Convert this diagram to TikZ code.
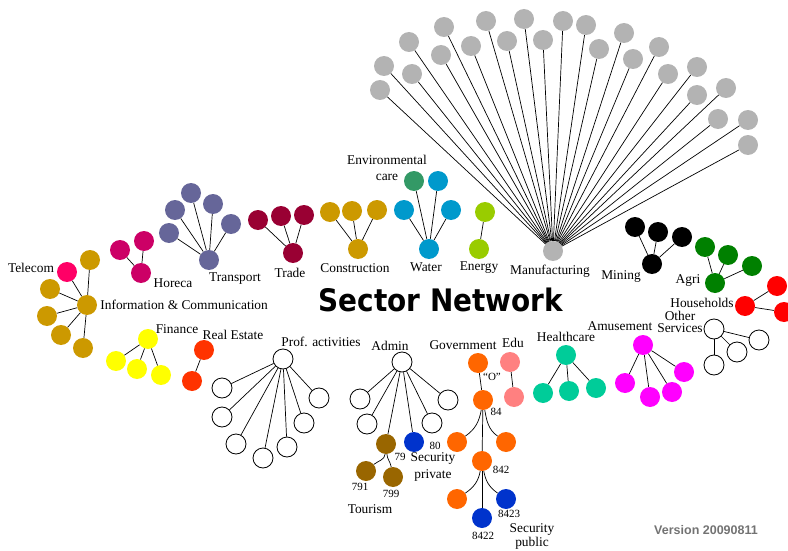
\documentclass[tikz,border=0pt]{standalone}
\usepackage{graphicx}
\usepackage{fontspec}
\setmainfont{Liberation Serif}
\newfontfamily\headfont{DejaVu Sans}
\newfontfamily\versionfont{Liberation Sans}
\usetikzlibrary{positioning}

\definecolor{manu}{HTML}{B3B3B3}
\definecolor{ict}{HTML}{CC9900}
\definecolor{telecom}{HTML}{FF0066}
\definecolor{horeca}{HTML}{CC0066}
\definecolor{transport}{HTML}{666699}
\definecolor{trade}{HTML}{990033}
\definecolor{water}{HTML}{0099CC}
\definecolor{envcare}{HTML}{339966}
\definecolor{energy}{HTML}{99CC00}
\definecolor{agri}{HTML}{008000}
\definecolor{househ}{HTML}{FF0000}
\definecolor{amuse}{HTML}{FF00FF}
\definecolor{health}{HTML}{00CC99}
\definecolor{edu}{HTML}{FF8080}
\definecolor{gov}{HTML}{FF6600}
\definecolor{secur}{HTML}{0033CC}
\definecolor{tourism}{HTML}{996600}
\definecolor{finance}{HTML}{FFFF00}
\definecolor{realest}{HTML}{FF3300}

\begin{document}
\begin{tikzpicture}[x=1pt, y=-1pt,
    sector/.style={circle, inner sep=0pt, minimum size=20pt},
    blank/.style={sector, draw, fill=white, line width=0.8pt},
    link/.style={black, line width=0.7pt},
    lbl/.style={inner sep=0pt, align=center, font=\fontsize{13.4}{15}\selectfont},
    num/.style={inner sep=0pt, font=\fontsize{11}{11}\selectfont}
]
\useasboundingbox (0,0) rectangle (788,551);

% manufacturing fan
\node[sector, fill=manu] (manu) at (553,251) {};
\foreach \x/\y [count=\i] in {380/90, 384/66, 409/42, 412/74, 444/27, 441/55,
    471/46, 486/21, 507/41, 524/19, 543/40, 563/21, 586/25, 599/49, 624/33,
    633/59, 659/47, 668/74, 697/67, 697/95, 726/88, 718/119, 748/120, 748/145}
{
    \node[sector, fill=manu] (manu\i) at (\x,\y) {};
    \draw[link] (manu) -- (manu\i);
}
\node[lbl] at (550,271) {Manufacturing};

% information & communication
\node[sector, fill=ict] (ict) at (87,305) {};
\node[sector, fill=telecom] (tel) at (67,272) {};
\node[sector, fill=ict] (ict1) at (90,260) {};
\node[sector, fill=ict] (ict2) at (50,289) {};
\node[sector, fill=ict] (ict3) at (47,316) {};
\node[sector, fill=ict] (ict4) at (61,335) {};
\node[sector, fill=ict] (ict5) at (83,348) {};
\draw[link] (ict) -- (tel);
\foreach \i in {1,...,5} \draw[link] (ict) -- (ict\i);
\node[lbl] at (31,268) {Telecom};
\node[lbl, right=3pt of ict] {Information \& Communication};

% horeca
\node[sector, fill=horeca] (hor) at (141,273) {};
\node[sector, fill=horeca] (hor1) at (120,250) {};
\node[sector, fill=horeca] (hor2) at (144,241) {};
\draw[link] (hor) -- (hor1) (hor) -- (hor2);
\node[lbl] at (173,283) {Horeca};

% transport
\node[sector, fill=transport] (tra) at (209,260) {};
\node[sector, fill=transport] (tra1) at (169,233) {};
\node[sector, fill=transport] (tra2) at (175,210) {};
\node[sector, fill=transport] (tra3) at (191,193) {};
\node[sector, fill=transport] (tra4) at (213,204) {};
\node[sector, fill=transport] (tra5) at (231,224) {};
\foreach \i in {1,...,5} \draw[link] (tra) -- (tra\i);
\node[lbl] at (235,279) {Transport};

% trade
\node[sector, fill=trade] (trd) at (293,253) {};
\node[sector, fill=trade] (trd1) at (258,220) {};
\node[sector, fill=trade] (trd2) at (281,216) {};
\node[sector, fill=trade] (trd3) at (304,215) {};
\foreach \i in {1,2,3} \draw[link] (trd) -- (trd\i);
\node[lbl] at (290,273) {Trade};

% construction
\node[sector, fill=ict] (con) at (358,249) {};
\node[sector, fill=ict] (con1) at (330,212) {};
\node[sector, fill=ict] (con2) at (352,211) {};
\node[sector, fill=ict] (con3) at (377,210) {};
\foreach \i in {1,2,3} \draw[link] (con) -- (con\i);
\node[lbl] at (355,268) {Construction};

% water and environmental care
\node[sector, fill=water] (wat) at (429,249) {};
\node[sector, fill=water] (wat1) at (404,210) {};
\node[sector, fill=envcare] (env) at (414,181) {};
\node[sector, fill=water] (wat2) at (438,181) {};
\node[sector, fill=water] (wat3) at (451,210) {};
\draw[link] (wat) -- (wat1) (wat) -- (env) (wat) -- (wat2) (wat) -- (wat3);
\node[lbl] at (426,267) {Water};
\node[lbl, font=\fontsize{13.4}{16}\selectfont] at (387,168) {Environmental\\care};

% energy
\node[sector, fill=energy] (ene) at (479,249) {};
\node[sector, fill=energy] (ene1) at (485,212) {};
\draw[link] (ene) -- (ene1);
\node[lbl] at (479,268) {Energy};

% mining
\node[sector, fill=black] (min) at (652,264) {};
\node[sector, fill=black] (min1) at (635,227) {};
\node[sector, fill=black] (min2) at (658,232) {};
\node[sector, fill=black] (min3) at (682,237) {};
\foreach \i in {1,2,3} \draw[link] (min) -- (min\i);
\node[lbl] at (621,277) {Mining};

% agri
\node[sector, fill=agri] (agr) at (715,283) {};
\node[sector, fill=agri] (agr1) at (705,247) {};
\node[sector, fill=agri] (agr2) at (728,255) {};
\node[sector, fill=agri] (agr3) at (752,266) {};
\foreach \i in {1,2,3} \draw[link] (agr) -- (agr\i);
\node[lbl] at (688,281) {Agri};

% households
\node[sector, fill=househ] (hou) at (745,306) {};
\node[sector, fill=househ] (hou1) at (777,286) {};
\node[sector, fill=househ] (hou2) at (784,312) {};
\draw[link] (hou) -- (hou1) (hou) -- (hou2);
\node[lbl] at (702,303) {Households};

% other services
\node[blank] (oth) at (714,329) {};
\node[blank] (oth1) at (759,340) {};
\node[blank] (oth2) at (737,352) {};
\node[blank] (oth3) at (714,365) {};
\foreach \i in {1,2,3} \draw[link] (oth) -- (oth\i);
\node[lbl, font=\fontsize{13.4}{12}\selectfont] at (680,322) {Other\\Services};

% amusement
\node[sector, fill=amuse] (amu) at (643,345) {};
\node[sector, fill=amuse] (amu1) at (625,383) {};
\node[sector, fill=amuse] (amu2) at (650,397) {};
\node[sector, fill=amuse] (amu3) at (672,392) {};
\node[sector, fill=amuse] (amu4) at (684,372) {};
\foreach \i in {1,...,4} \draw[link] (amu) -- (amu\i);
\node[lbl] at (620,326) {Amusement};

% healthcare
\node[sector, fill=health] (hea) at (566,355) {};
\node[sector, fill=health] (hea1) at (543,393) {};
\node[sector, fill=health] (hea2) at (569,391) {};
\node[sector, fill=health] (hea3) at (596,388) {};
\foreach \i in {1,2,3} \draw[link] (hea) -- (hea\i);
\node[lbl] at (566,337) {Healthcare};

% edu
\node[sector, fill=edu] (edu) at (510,362) {};
\node[sector, fill=edu] (edu1) at (514,397) {};
\draw[link] (edu) -- (edu1);
\node[lbl] at (513,343) {Edu};

% government, 84 and 842
\node[sector, fill=gov] (gov) at (478,363) {};
\node[sector, fill=gov] (g84) at (483,400) {};
\node[sector, fill=gov] (g84a) at (457,442) {};
\node[sector, fill=gov] (g84b) at (506,442) {};
\node[sector, fill=gov] (g842) at (482,461) {};
\node[sector, fill=gov] (g842a) at (457,499) {};
\node[sector, fill=secur] (g8422) at (482,518) {};
\node[sector, fill=secur] (g8423) at (506,499) {};
\draw[link] (gov) -- (g84);
\draw[link] (g84) to[out=-100, in=35] (g84a);
\draw[link] (g84) to[out=-80, in=145] (g84b);
\draw[link] (g84) -- (g842);
\draw[link] (g842) to[out=-100, in=35] (g842a);
\draw[link] (g842) -- (g8422);
\draw[link] (g842) to[out=-80, in=145] (g8423);
\node[lbl] at (463,345) {Government};
\node[num] at (492,377) {``O''};
\node[num] at (496,412) {84};
\node[num] at (501,470) {842};
\node[num] at (483,536) {8422};
\node[num] at (509,514) {8423};
\node[lbl, font=\fontsize{13.4}{14}\selectfont] at (532,536) {Security\\public};

% admin, tourism and private security
\node[blank] (adm) at (402,362) {};
\node[blank] (adm1) at (360,399) {};
\node[blank] (adm2) at (367,424) {};
\node[sector, fill=tourism] (t79) at (386,444) {};
\node[sector, fill=secur] (s80) at (414,442) {};
\node[blank] (adm3) at (432,423) {};
\node[blank] (adm4) at (448,400) {};
\node[sector, fill=tourism] (t791) at (366,471) {};
\node[sector, fill=tourism] (t799) at (393,477) {};
\foreach \i in {1,...,4} \draw[link] (adm) -- (adm\i);
\draw[link] (adm) -- (t79) (adm) -- (s80);
\draw[link] (t79) to[out=-95, in=40] (t791);
\draw[link] (t79) to[out=-85, in=100] (t799);
\node[lbl] at (390,346) {Admin};
\node[num] at (400,457) {79};
\node[num] at (435,446) {80};
\node[num] at (360,487) {791};
\node[num] at (391,494) {799};
\node[lbl, font=\fontsize{13.4}{17}\selectfont] at (433,467) {Security\\private};
\node[lbl] at (370,509) {Tourism};

% professional activities
\node[blank] (pro) at (283,359) {};
\node[blank] (pro1) at (222,388) {};
\node[blank] (pro2) at (222,417) {};
\node[blank] (pro3) at (236,444) {};
\node[blank] (pro4) at (263,458) {};
\node[blank] (pro5) at (287,447) {};
\node[blank] (pro6) at (304,423) {};
\node[blank] (pro7) at (319,398) {};
\foreach \i in {1,...,7} \draw[link] (pro) -- (pro\i);
\node[lbl] at (321,342) {Prof. activities};

% finance and real estate
\node[sector, fill=finance] (fin) at (148,339) {};
\node[sector, fill=finance] (fin1) at (116,361) {};
\node[sector, fill=finance] (fin2) at (137,369) {};
\node[sector, fill=finance] (fin3) at (161,375) {};
\foreach \i in {1,2,3} \draw[link] (fin) -- (fin\i);
\node[lbl] at (177,329) {Finance};
\node[sector, fill=realest] (rea) at (204,350) {};
\node[sector, fill=realest] (rea1) at (192,381) {};
\draw[link] (rea) -- (rea1);
\node[lbl] at (233,335) {Real Estate};

% title and version
\node[inner sep=0pt, font=\headfont\bfseries\fontsize{31}{31}\selectfont] (title) at (441,300) {\scalebox{0.9}[1]{Sector Network}};
\node[inner sep=0pt, text=black!55, font=\versionfont\bfseries\fontsize{12.5}{12.5}\selectfont] (version) at (706,530) {Version 20090811};
\end{tikzpicture}
\end{document}
